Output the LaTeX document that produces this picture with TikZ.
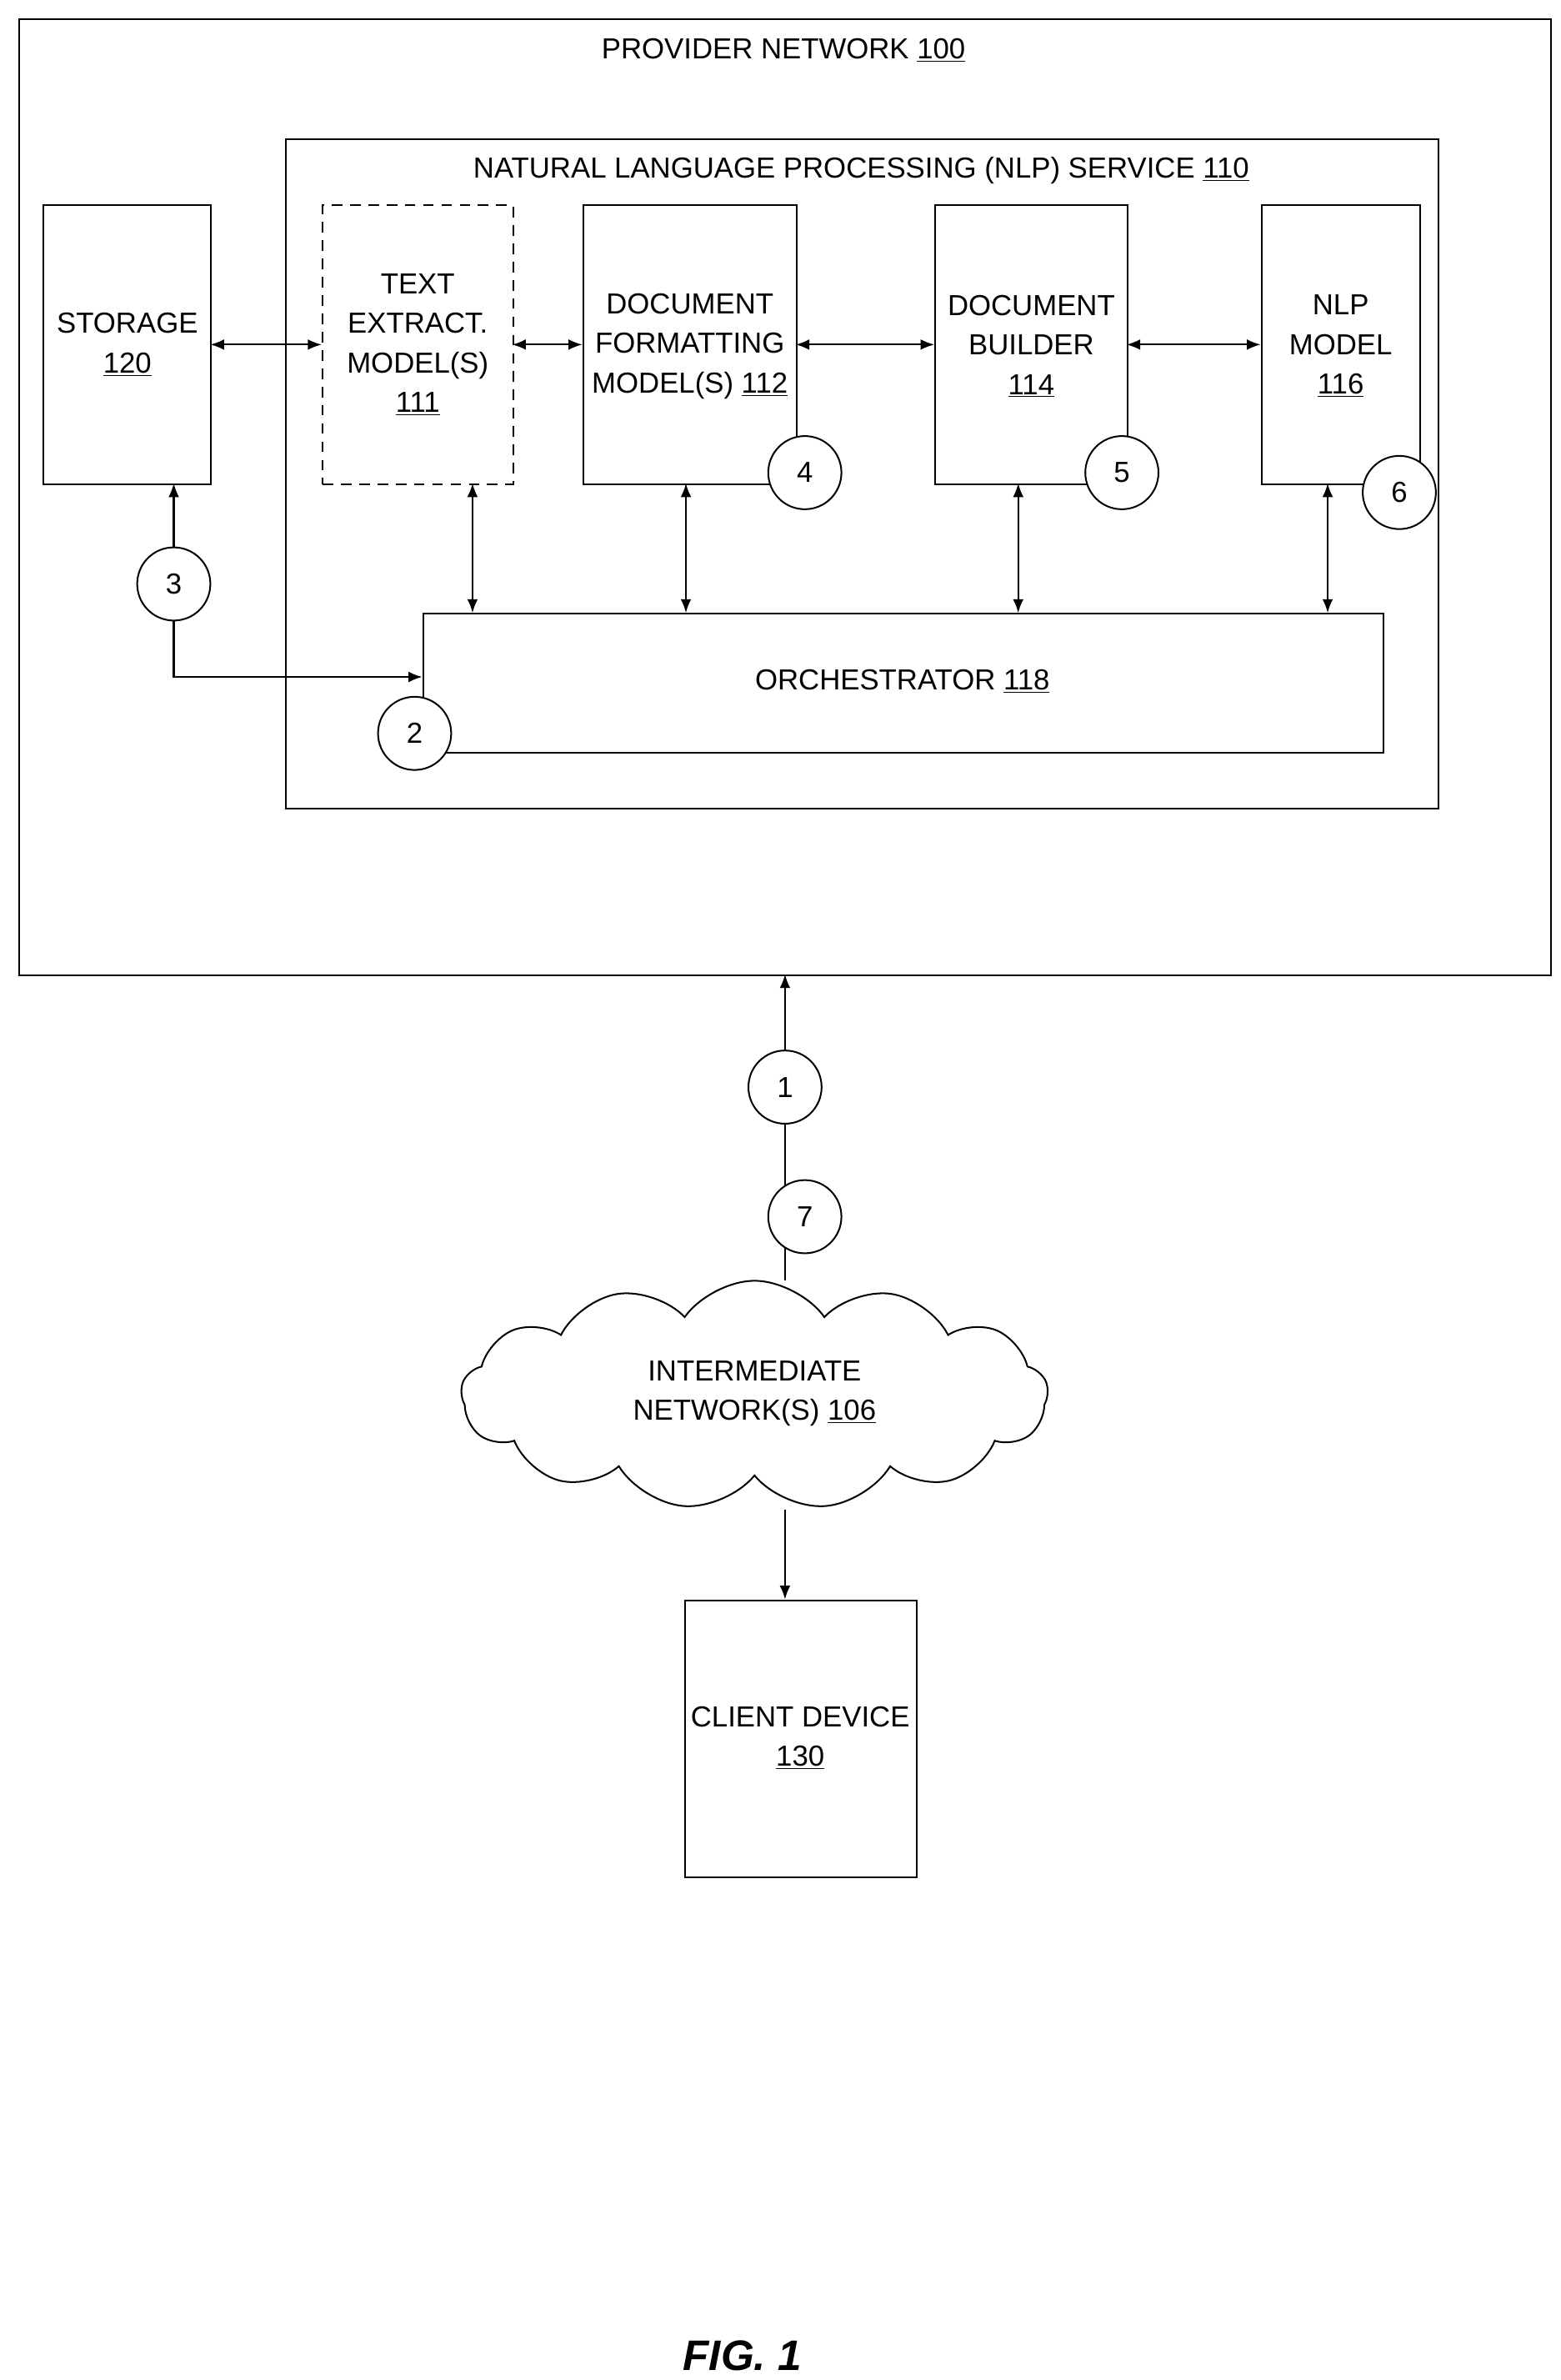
\documentclass[tikz,border=0pt]{standalone}
\usepackage{fontspec}
\setmainfont{Liberation Sans}
\usetikzlibrary{shapes.symbols,arrows.meta}
\begin{document}
\begin{tikzpicture}[x=1pt,y=-1pt,line width=1.1pt,
  box/.style={draw,rectangle},
  circ/.style={draw,circle,minimum size=48pt,inner sep=0pt,fill=white},
  lab/.style={align=center,inner sep=0pt},
  arr/.style={-{Latex[length=9pt,width=7pt]}},
  darr/.style={{Latex[length=9pt,width=7pt]}-{Latex[length=9pt,width=7pt]}},
  every node/.style={font=\fontsize{19}{26}\selectfont}]
\useasboundingbox (0,0) rectangle (1024,1561);
\node[box,minimum width=1005,minimum height=627,anchor=north west] (pn) at (12,12) {};
\node[lab] (pnl) at (514,33) {PROVIDER NETWORK \underline{100}};
\node[box,minimum width=756,minimum height=439,anchor=north west] (nlp) at (187,91) {};
\node[lab] (nlpl) at (565,112) {NATURAL LANGUAGE PROCESSING (NLP) SERVICE \underline{110}};
\node[box,minimum width=110,minimum height=183,anchor=north west] (st) at (28,134) {};
\node[lab] at (st) {STORAGE\\\underline{120}};
\node[box,dashed,dash pattern=on 7pt off 5pt,minimum width=125,minimum height=183,anchor=north west] (te) at (211,134) {};
\node[lab] at (te) {TEXT\\EXTRACT.\\MODEL(S)\\\underline{111}};
\node[box,minimum width=140,minimum height=183,anchor=north west] (df) at (382,134) {};
\node[lab] at ([yshift=-1pt]df) {DOCUMENT\\FORMATTING\\MODEL(S) \underline{112}};
\node[box,minimum width=126,minimum height=183,anchor=north west] (db) at (613,134) {};
\node[lab] at ([yshift=-1pt]db) {DOCUMENT\\BUILDER\\\underline{114}};
\node[box,minimum width=104,minimum height=183,anchor=north west] (nm) at (827,134) {};
\node[lab] at ([yshift=-1pt]nm) {NLP\\MODEL\\\underline{116}};
\node[box,minimum width=630,minimum height=91,anchor=north west] (or) at (277,402) {};
\node[lab] at (592,447) {ORCHESTRATOR \underline{118}};
\node[cloud,draw,cloud puffs=13,cloud puff arc=110,aspect=2.6,minimum width=385,minimum height=150,inner sep=0pt] (cl) at (495,915) {};
\node[lab] at (495,914) {INTERMEDIATE\\NETWORK(S) \underline{106}};
\node[box,minimum width=152,minimum height=182,anchor=north west] (cd) at (449,1049) {};
\node[lab] at (525,1140) {CLIENT DEVICE\\\underline{130}};
% horizontal arrows
\draw[darr] (138,226) -- (211,226);
\draw[darr] (336,226) -- (382,226);
\draw[darr] (522,226) -- (613,226);
\draw[darr] (739,226) -- (827,226);
% vertical arrows
\draw[darr] (310,317) -- (310,402);
\draw[darr] (450,317) -- (450,402);
\draw[darr] (668,317) -- (668,402);
\draw[darr] (871,317) -- (871,402);
% storage/orchestrator
\node[circ] (c3) at (114,383) {3};
\draw[arr] (c3) -- (114,317);
\draw[arr] (c3.south) -- (114,444) -- (277,444);
% network
\coordinate (ct) at (515,840);
\draw[arr] (ct) -- (515,639);
\draw[arr] (515,990) -- (515,1049);
\node[circ] (c1) at (515,713) {1};
\node[circ] (c7) at (528,798) {7};
\node[circ] (c4) at (528,310) {4};
\node[circ] (c5) at (736,310) {5};
\node[circ] (c6) at (918,323) {6};
\node[circ] (c2) at (272,481) {2};
\node[font=\fontsize{28}{32}\selectfont\bfseries\itshape] (fig) at (487,1545) {FIG. 1};
\end{tikzpicture}
\end{document}
